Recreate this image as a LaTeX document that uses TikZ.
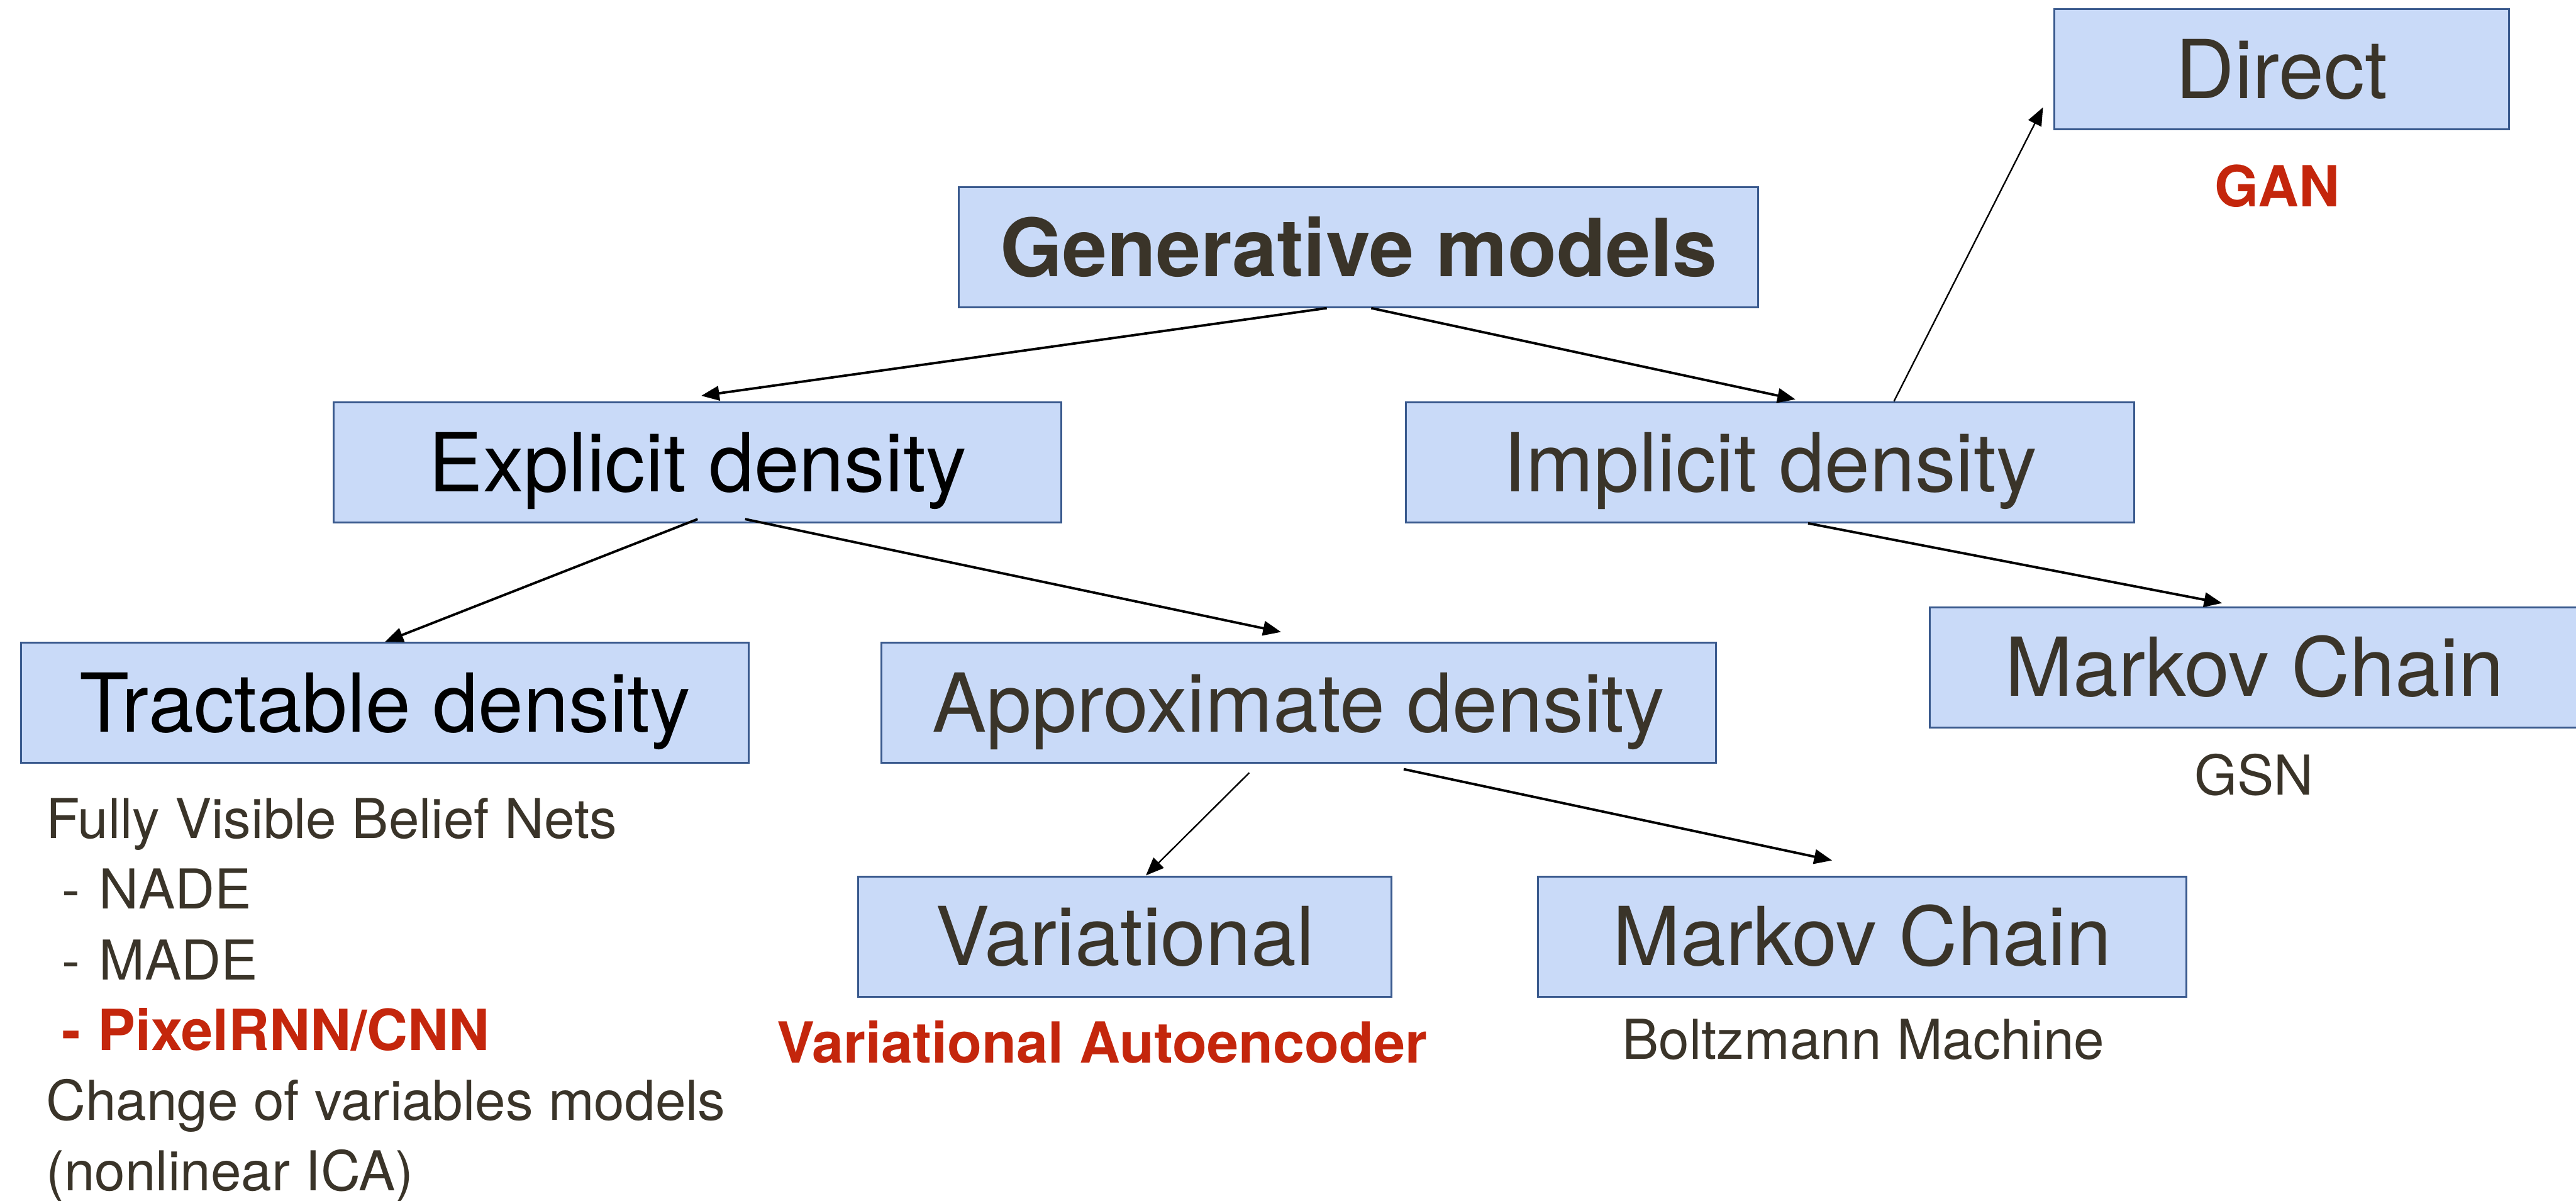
\documentclass[tikz,border=0pt]{standalone}
\usepackage{fontspec}
\setmainfont{TeX Gyre Heros}
\usepackage{xcolor}
\usepackage{tikz}
\usetikzlibrary{positioning,arrows.meta,calc}
\definecolor{boxfill}{HTML}{C9DAF8}
\definecolor{boxline}{HTML}{3A5A8E}
\definecolor{ink}{HTML}{3A3429}
\definecolor{hot}{HTML}{C4260C}

\begin{document}
\begin{tikzpicture}[
  box/.style={draw=boxline, line width=0.9pt, fill=boxfill, minimum height=2.0cm,
              inner sep=0pt, text=ink, font=\fontsize{38.5}{46}\selectfont,
              text height=27.6pt, text depth=0pt},
  arr/.style={-{Triangle[length=3mm, width=2.4mm]}, line width=1.15pt, black},
  thin/.style={line width=0.7pt},
  note/.style={anchor=base, inner sep=0pt, text=ink, font=\fontsize{26}{33}\selectfont},
  hot/.style={text=hot, font=\fontsize{26.8}{33}\selectfont\bfseries},
]
\useasboundingbox (0,0) rectangle (42.87,-19.97);

% top of the tree
\node[box, minimum width=13.30cm, font=\fontsize{38}{46}\selectfont\bfseries] (gen) at (22.61,-4.11) {Generative models};

% second level
\node[box, minimum width=12.11cm, text=black] (expl) at (11.61,-7.69) {Explicit density};
\node[box, minimum width=12.12cm] (impl) at (29.46,-7.69) {Implicit density};

% implicit branch
\node[box, minimum width=7.57cm] (direct) at (37.97,-1.15) {Direct};
\node[note, hot] (gan) at (37.90,-3.44) {GAN};
\node[box, minimum width=10.80cm] (mcimpl) at (37.52,-11.10) {Markov Chain};
\node[note] (gsn) at (37.51,-13.22) {GSN};

% explicit branch
\node[box, minimum width=12.11cm, text=black] (tract) at (6.41,-11.69) {Tractable density};
\node[box, minimum width=13.89cm] (approx) at (21.61,-11.69) {Approximate density};
\node[box, minimum width=8.87cm] (vari) at (18.72,-15.58) {Variational};
\node[box, minimum width=10.80cm] (mcexpl) at (30.99,-15.58) {Markov Chain};
\node[note, hot] (vae) at (18.34,-17.68) {Variational Autoencoder};
\node[note] (boltz) at (31.01,-17.62) {Boltzmann Machine};

% tractable models, listed under the box
\node[note, anchor=base west] (fvbn) at (0.76,-13.95) {Fully Visible Belief Nets};
\node[note, anchor=base west] (nade) at (1.02,-15.12) {-\hspace{0.35em}NADE};
\node[note, anchor=base west] (made) at (1.02,-16.30) {-\hspace{0.35em}MADE};
\node[note, hot, anchor=base west] (pixel) at (1.02,-17.47) {-\hspace{0.3em}PixelRNN/CNN};
\node[note, anchor=base west] (cov) at (0.76,-18.64) {Change of variables models};
\node[note, anchor=base west] (ica) at (0.76,-19.81) {(nonlinear ICA)};

% connectors
\draw[arr] ([xshift=-5.3mm]gen.south) -- ([xshift=0.6mm,yshift=0.9mm]expl.north);
\draw[arr] ([xshift=2.1mm]gen.south) -- ([xshift=4.2mm,yshift=0.3mm]impl.north);
\draw[arr, thin] ([xshift=20.6mm]impl.north) -- ([xshift=-1.7mm,yshift=3.8mm]direct.south west);
\draw[arr] ([xshift=6.3mm]impl.south) -- ([xshift=-5.4mm,yshift=0.5mm]mcimpl.north);
\draw[arr] ([yshift=0.7mm]expl.south) -- (tract.north);
\draw[arr] ([xshift=7.9mm,yshift=0.7mm]expl.south) -- ([xshift=-2.9mm,yshift=1.6mm]approx.north);
\draw[arr, thin] ([xshift=-8.2mm,yshift=-1.5mm]approx.south) -- ([xshift=3.5mm]vari.north);
\draw[arr] ([xshift=17.5mm,yshift=-0.9mm]approx.south) -- ([xshift=-5mm,yshift=2.5mm]mcexpl.north);
\end{tikzpicture}
\end{document}
